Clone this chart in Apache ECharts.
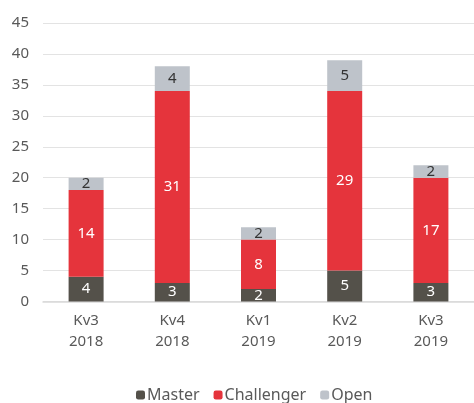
<!DOCTYPE html>
<html><head><meta charset="utf-8">
<script src="https://cdn.jsdelivr.net/npm/echarts@6/dist/echarts.min.js"></script>
<style>html,body{margin:0;padding:0;background:#fff;}#c{width:474px;height:403px;}</style>
</head><body><div id="c"></div>
<script>
const categories = ['Kv3\n2018', 'Kv4\n2018', 'Kv1\n2019', 'Kv2\n2019', 'Kv3\n2019'];
const master = [4, 3, 2, 5, 3];
const challenger = [14, 31, 8, 29, 17];
const open = [2, 4, 2, 5, 2];
const yTicks = {min: 0, max: 45, interval: 5};

const font = '"Noto Sans", sans-serif';
const chart = echarts.init(document.getElementById('c'));
function lbl(color) {
  return {show: true, position: 'inside', color: color, fontSize: 15, fontFamily: font};
}
chart.setOption({
  animation: false,
  grid: {left: 43, width: 436, top: 23, height: 278.5},
  legend: {
    bottom: -5, left: 131, itemWidth: 9, itemHeight: 9, itemGap: 14,
    textStyle: {color: '#595959', fontSize: 16, fontFamily: font, padding: [0, 0, 0, -3]},
    data: ['Master', 'Challenger', 'Open']
  },
  xAxis: {
    type: 'category', data: categories,
    axisLine: {lineStyle: {color: '#d9d9d9', width: 1.5}},
    axisTick: {show: false},
    axisLabel: {color: '#595959', fontSize: 15, fontFamily: font, lineHeight: 21, margin: 9}
  },
  yAxis: {
    type: 'value', min: yTicks.min, max: yTicks.max, interval: yTicks.interval,
    axisLine: {show: false}, axisTick: {show: false},
    splitLine: {lineStyle: {color: '#e3e3e3', width: 1}},
    axisLabel: {color: '#595959', fontSize: 15, fontFamily: font, margin: 14}
  },
  series: [
    {name: 'Master', type: 'bar', stack: 's', barWidth: 35, data: master,
     itemStyle: {color: '#54514a'}, label: lbl('#ffffff')},
    {name: 'Challenger', type: 'bar', stack: 's', barWidth: 35, data: challenger,
     itemStyle: {color: '#e5343c'}, label: lbl('#ffffff')},
    {name: 'Open', type: 'bar', stack: 's', barWidth: 35, data: open,
     itemStyle: {color: '#bec3ca'}, label: lbl('#333333')}
  ]
});
</script></body></html>
